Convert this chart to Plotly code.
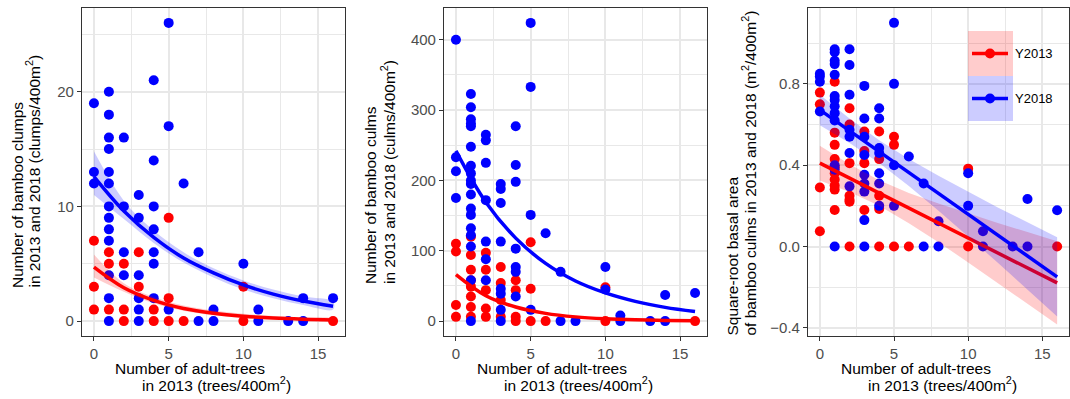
import plotly.graph_objects as go

# ---------------- data ----------------
# Panel 1: number of bamboo clumps
clumps_x_2013 = [0, 0, 0, 1, 1, 1, 2, 2, 2, 3, 3, 4, 4, 5, 5, 5, 6, 10, 10, 16]
clumps_y_2013 = [7, 3, 1, 6, 5, 1, 5, 1, 0, 6, 3, 1, 0, 9, 2, 0, 0, 3, 0, 0]
clumps_x_2018 = [0, 0, 0,
                 1, 1, 1, 1, 1, 1, 1, 1, 1, 1, 1, 1, 1,
                 2, 2, 2, 2,
                 3, 3, 3, 3, 3, 3,
                 4, 4, 4, 4, 4, 4, 4,
                 5, 5, 5, 6, 7, 7, 8, 8, 10, 11, 11, 13, 14, 14, 16]
clumps_y_2018 = [19, 13, 12,
                 20, 18, 16, 15, 13, 12, 10, 9, 8, 7, 4, 2, 0,
                 16, 10, 6, 4,
                 11, 9, 4, 2, 1, 0,
                 21, 14, 10, 8, 6, 5, 2,
                 26, 17, 1, 12, 6, 0, 1, 0, 5, 1, 0, 0, 2, 0, 2]

# Panel 2: number of bamboo culms
culms_x_2013 = [0, 0, 0, 0,
                1, 1, 1, 1, 1, 1, 1, 1,
                2, 2, 2, 2, 2,
                3, 3, 3, 3,
                4, 4, 4, 4,
                5, 5, 5, 6, 10, 10, 16]
culms_y_2013 = [110, 99, 23, 6,
                120, 94, 73, 58, 49, 35, 20, 6,
                97, 73, 44, 18, 6,
                77, 54, 30, 6,
                58, 44, 6, 0,
                112, 46, 0, 0, 48, 0, 0]
culms_x_2018 = [0, 0, 0, 0,
                1, 1, 1, 1, 1, 1, 1, 1, 1, 1, 1, 1, 1, 1, 1, 1, 1, 1,
                2, 2, 2, 2, 2, 2, 2,
                3, 3, 3, 3, 3, 3, 3, 3,
                4, 4, 4, 4, 4, 4, 4,
                5, 5, 5, 5, 6, 7, 7, 8, 10, 10, 11, 11, 13, 14, 14, 16]
culms_y_2018 = [400, 233, 213, 175,
                323, 304, 287, 281, 277, 248, 221, 210, 200, 195, 180, 160, 151, 132, 122, 106, 58, 0,
                265, 257, 225, 172, 113, 88, 58,
                195, 188, 168, 113, 46, 39, 16, 0,
                277, 222, 198, 103, 77, 70, 35,
                424, 333, 151, 16, 125, 70, 0, 0, 77, 45, 8, 0, 0, 37, 0, 40]

# Panel 3: square-root basal area
basal_x_2013 = [0, 0, 0, 0,
                1, 1, 1, 1, 1, 1, 1, 1, 1, 1,
                2, 2, 2, 2, 2, 2, 2,
                3, 3, 3, 3,
                4, 4, 4, 4, 4,
                5, 5, 5, 6, 10, 10, 16]
basal_y_2013 = [0.757, 0.70, 0.29, 0.075,
                0.81, 0.56, 0.50, 0.43, 0.39, 0.36, 0.33, 0.30, 0.28, 0.18,
                0.68, 0.60, 0.41, 0.25, 0.23, 0.22, 0.0,
                0.566, 0.47, 0.41, 0.18,
                0.566, 0.43, 0.25, 0.185, 0.0,
                0.54, 0.50, 0.0, 0.0, 0.383, 0.0, 0.0]
basal_x_2018 = [0, 0, 0, 0,
                1, 1, 1, 1, 1, 1, 1, 1, 1, 1, 1, 1, 1,
                2, 2, 2, 2, 2, 2, 2,
                3, 3, 3, 3, 3, 3, 3, 3, 3,
                4, 4, 4, 4, 4, 4, 4,
                5, 5, 5, 5, 6, 7, 7, 8, 8, 10, 10, 11, 11, 13, 14, 14, 16]
basal_y_2018 = [0.85, 0.836, 0.81, 0.664,
                0.97, 0.955, 0.913, 0.897, 0.845, 0.74, 0.72, 0.69, 0.656, 0.62, 0.40, 0.378, 0.0,
                0.97, 0.893, 0.746, 0.574, 0.54, 0.46, 0.296,
                0.79, 0.63, 0.54, 0.45, 0.353, 0.31, 0.27, 0.13, 0.0,
                0.68, 0.63, 0.484, 0.46, 0.36, 0.31, 0.2,
                1.10, 0.80, 0.40, 0.2, 0.443, 0.31, 0.0, 0.124, 0.0, 0.36, 0.2, 0.075, 0.0, 0.0, 0.234, 0.0, 0.178]

# fitted curves and confidence bands
fit_x = [0, 2, 4, 6, 8, 10, 12, 14, 16]
clumps_fit_2013 = [4.7, 2.9, 1.8, 1.1, 0.69, 0.43, 0.26, 0.16, 0.10]
clumps_lo_2013 = [3.8, 2.55, 1.55, 0.9, 0.5, 0.28, 0.15, 0.08, 0.04]
clumps_hi_2013 = [5.8, 3.3, 2.1, 1.35, 0.92, 0.65, 0.45, 0.32, 0.24]
clumps_fit_2018 = [12.6, 9.6, 7.3, 5.5, 4.2, 3.15, 2.35, 1.75, 1.3]
clumps_lo_2018 = [11.0, 8.9, 6.8, 5.1, 3.8, 2.75, 2.0, 1.4, 1.0]
clumps_hi_2018 = [14.8, 10.5, 7.9, 6.0, 4.6, 3.55, 2.75, 2.15, 1.7]
culms_fit_2013 = [66, 36, 20, 11, 6, 3.3, 1.8, 1.0, 0.5]
culms_fit_2018 = [242, 169, 118, 82, 57, 40, 28, 19.5, 13.6]
basal_fit_2013 = [0.410, 0.336, 0.263, 0.189, 0.116, 0.042, -0.032, -0.105, -0.179]
basal_lo_2013 = [0.325, 0.268, 0.200, 0.115, 0.021, -0.078, -0.180, -0.281, -0.384]
basal_hi_2013 = [0.495, 0.404, 0.326, 0.263, 0.211, 0.162, 0.116, 0.071, 0.026]
basal_fit_2018 = [0.672, 0.569, 0.467, 0.364, 0.262, 0.159, 0.056, -0.046, -0.149]
basal_lo_2018 = [0.597, 0.509, 0.411, 0.298, 0.176, 0.049, -0.080, -0.211, -0.344]
basal_hi_2018 = [0.747, 0.629, 0.523, 0.430, 0.348, 0.269, 0.192, 0.119, 0.046]

years = ["Y2013", "Y2018"]
# ----------------------------------------------------------------

RED = "#FF0000"
BLUE = "#0000FF"
RED_FILL = "rgba(255,0,0,0.2)"
BLUE_FILL = "rgba(0,0,255,0.2)"
W, H = 1070, 399


def px(x):
    return x / W


def py(y):
    return 1 - y / H


fig = go.Figure()

panels = [
    dict(ax="", xs=(clumps_x_2013, clumps_x_2018), ys=(clumps_y_2013, clumps_y_2018),
         fits=(clumps_fit_2013, clumps_fit_2018),
         bands=((clumps_lo_2013, clumps_hi_2013), (clumps_lo_2018, clumps_hi_2018)), shape="spline"),
    dict(ax="2", xs=(culms_x_2013, culms_x_2018), ys=(culms_y_2013, culms_y_2018),
         fits=(culms_fit_2013, culms_fit_2018), bands=None, shape="spline"),
    dict(ax="3", xs=(basal_x_2013, basal_x_2018), ys=(basal_y_2013, basal_y_2018),
         fits=(basal_fit_2013, basal_fit_2018),
         bands=((basal_lo_2013, basal_hi_2013), (basal_lo_2018, basal_hi_2018)), shape="linear"),
]

for p in panels:
    xa, ya = "x" + p["ax"], "y" + p["ax"]
    for i, col in enumerate((RED, BLUE)):
        fig.add_trace(go.Scatter(x=p["xs"][i], y=p["ys"][i], mode="markers", name=years[i],
                                 marker=dict(color=col, size=10, line=dict(width=0)),
                                 xaxis=xa, yaxis=ya, showlegend=False))
    for i, (col, fill) in enumerate(((RED, RED_FILL), (BLUE, BLUE_FILL))):
        if p["bands"] is not None:
            lo, hi = p["bands"][i]
            fig.add_trace(go.Scatter(x=fit_x + fit_x[::-1], y=hi + lo[::-1], mode="lines",
                                     fill="toself", fillcolor=fill,
                                     line=dict(width=0, shape=p["shape"]),
                                     xaxis=xa, yaxis=ya, showlegend=False, hoverinfo="skip"))
        fig.add_trace(go.Scatter(x=fit_x, y=p["fits"][i], mode="lines",
                                 line=dict(color=col, width=3.5, shape=p["shape"]),
                                 xaxis=xa, yaxis=ya, showlegend=False))

frames = [(82, 345), (444, 707), (808, 1069)]
ytop, ybot = 8, 336
grid = "#E8E8E8"
font_tick = dict(family="Liberation Sans, Arial", size=15, color="#4D4D4D")

yspecs = [
    dict(range=[-1.3, 27.3], dtick=10, tick0=0, minor=5),
    dict(range=[-21.2, 445.2], dtick=100, tick0=0, minor=50),
    dict(range=[-0.44, 1.173], dtick=0.4, tick0=0, minor=0.2),
]

layout = dict(
    width=W, height=H, margin=dict(l=0, r=0, t=0, b=0),
    paper_bgcolor="white", plot_bgcolor="white", showlegend=False,
    font=dict(family="Liberation Sans, Arial", size=15, color="black"),
)

for k, ((l, r), ys) in enumerate(zip(frames, yspecs)):
    sfx = "" if k == 0 else str(k + 1)
    layout["xaxis" + sfx] = dict(
        domain=[px(l), px(r)], range=[-0.8, 16.8], anchor="y" + sfx,
        tickmode="linear", tick0=0, dtick=5,
        showgrid=True, gridcolor=grid, gridwidth=1.5,
        minor=dict(dtick=2.5, tick0=0, showgrid=True, gridcolor=grid, gridwidth=0.8, ticks=""),
        showline=True, linecolor="#333333", linewidth=1.1, mirror=True,
        ticks="outside", ticklen=4, tickwidth=1.1, tickcolor="#333333",
        tickfont=font_tick, zeroline=False,
    )
    layout["yaxis" + sfx] = dict(
        domain=[py(ybot), py(ytop)], range=ys["range"], anchor="x" + sfx,
        tickmode="linear", tick0=ys["tick0"], dtick=ys["dtick"],
        showgrid=True, gridcolor=grid, gridwidth=1.5,
        minor=dict(dtick=ys["minor"], tick0=0, showgrid=True, gridcolor=grid, gridwidth=0.8, ticks=""),
        showline=True, linecolor="#333333", linewidth=1.1, mirror=True,
        ticks="outside", ticklen=4, tickwidth=1.1, tickcolor="#333333",
        tickfont=font_tick, zeroline=False,
    )

fig.update_layout(**layout)
fig.update_layout(yaxis3=dict(tickformat=".1f"))

title_font = dict(family="Liberation Sans, Arial", size=15.5, color="black")
ann = []
# x-axis titles (two lines each)
for (l, r) in frames:
    ann.append(dict(text="Number of adult-trees", x=px(l + 31), y=py(368.5), xref="paper", yref="paper",
                    xanchor="left", yanchor="middle", showarrow=False, font=title_font))
    ann.append(dict(text="in 2013 (trees/400m<sup>2</sup>)", x=px(l + 58), y=py(384), xref="paper",
                    yref="paper", xanchor="left", yanchor="middle", showarrow=False, font=title_font))

# y-axis titles (two lines each, rotated)
ytitles = [
    ("Number of bamboo clumps", "in 2013 and 2018 (clumps/400m<sup>2</sup>)", 17, 33, 290),
    ("Number of bamboo culms", "in 2013 and 2018 (culms/400m<sup>2</sup>)", 370, 388, 286),
    ("Square-root basal area", "of bamboo culms in 2013 and 2018 (m<sup>2</sup>/400m<sup>2</sup>)", 732, 749, 338),
]
for t1, t2, x1, x2, yb in ytitles:
    ann.append(dict(text=t1, x=px(x1), y=py(yb), xref="paper", yref="paper", textangle=-90,
                    xanchor="center", yanchor="bottom", showarrow=False, font=title_font))
    ann.append(dict(text=t2, x=px(x2), y=py(yb), xref="paper", yref="paper", textangle=-90,
                    xanchor="center", yanchor="bottom", showarrow=False, font=title_font))

# legend (drawn inside panel 3)
shapes = []
leg = [(years[0], RED, RED_FILL, 31, 76), (years[1], BLUE, BLUE_FILL, 76, 121)]
for name, col, fill, y0, y1 in leg:
    yc = (y0 + y1) / 2
    shapes.append(dict(type="rect", xref="paper", yref="paper", x0=px(968), x1=px(1013),
                       y0=py(y1), y1=py(y0), fillcolor=fill, line=dict(width=0), layer="above"))
    shapes.append(dict(type="line", xref="paper", yref="paper", x0=px(972), x1=px(1008),
                       y0=py(yc), y1=py(yc), line=dict(color=col, width=3.5), layer="above"))
    shapes.append(dict(type="circle", xref="paper", yref="paper", x0=px(985), x1=px(995),
                       y0=py(yc + 5), y1=py(yc - 5), fillcolor=col, line=dict(width=0), layer="above"))
    ann.append(dict(text=name, x=px(1013), y=py(yc), xref="paper", yref="paper", xanchor="left",
                    yanchor="middle", showarrow=False,
                    font=dict(family="Liberation Sans, Arial", size=13, color="black")))

fig.update_layout(annotations=ann, shapes=shapes)
fig.write_html("out.html")
